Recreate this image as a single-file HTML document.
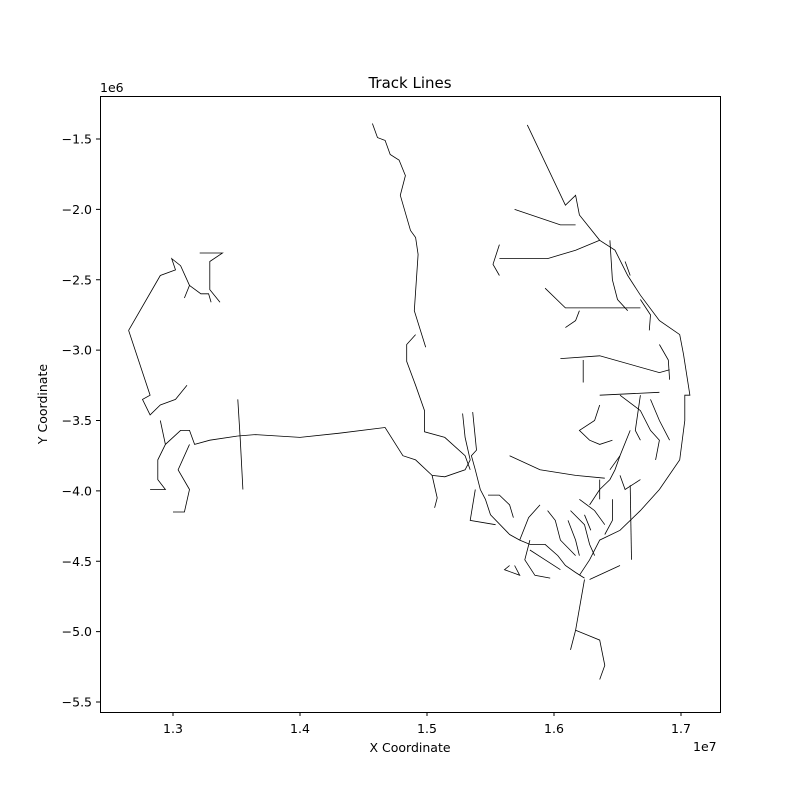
<!DOCTYPE html>
<html><head><meta charset="utf-8"><style>
body{margin:0;background:#fff}
svg{font-family:"DejaVu Sans","Liberation Sans",sans-serif}
</style></head><body>
<svg id="chart" width="800" height="800" viewBox="0 0 800 800">
<rect width="800" height="800" fill="#fff"/>
<text x="410" y="88" text-anchor="middle" font-size="15">Track Lines</text>
<text x="410" y="752" text-anchor="middle" font-size="12.5">X Coordinate</text>
<text x="47" y="404" text-anchor="middle" font-size="12.5" transform="rotate(-90 47 404)">Y Coordinate</text>
<text x="100" y="92" font-size="12.5">1e6</text>
<text x="693" y="751" font-size="12.5">1e7</text>
<g id="ticks"></g>
<g id="tracks" fill="none" stroke="#000" stroke-width="0.8"></g>
<rect x="100.5" y="96.5" width="620" height="616" fill="none" stroke="#000" stroke-width="1"/>
</svg>
<script>
const xTicks=[13,14,15,16,17];
const xTickLabels=["1.3","1.4","1.5","1.6","1.7"];
const yTicks=[-1.5,-2.0,-2.5,-3.0,-3.5,-4.0,-4.5,-5.0,-5.5];
const yTickLabels=["−1.5","−2.0","−2.5","−3.0","−3.5","−4.0","−4.5","−5.0","−5.5"];
// track polylines, coordinates in units of 1e6
const darwinLine=[[14.57,-1.39],[14.61,-1.49],[14.67,-1.51],[14.71,-1.61],[14.78,-1.65],[14.83,-1.76],[14.79,-1.90],[14.87,-2.15],[14.91,-2.20],[14.93,-2.32],[14.90,-2.72],[14.99,-2.98]];
const centralLine=[[14.91,-2.89],[14.84,-2.96],[14.84,-3.08],[14.91,-3.25],[14.98,-3.43],[14.98,-3.58],[15.14,-3.62],[15.30,-3.75],[15.34,-3.85]];
const transLine=[[13.51,-3.61],[13.65,-3.60],[14.0,-3.62],[14.31,-3.59],[14.67,-3.55],[14.81,-3.75],[14.91,-3.78],[15.04,-3.89],[15.14,-3.90],[15.30,-3.85],[15.34,-3.78],[15.30,-3.62],[15.28,-3.45]];
const eyreLine=[[15.04,-3.89],[15.08,-4.05],[15.06,-4.12]];
const waNorth=[[12.65,-2.86],[12.90,-2.47],[13.02,-2.43],[12.99,-2.35],[13.06,-2.40],[13.13,-2.54],[13.09,-2.63]];
const waNorthB=[[13.13,-2.54],[13.22,-2.60],[13.28,-2.60],[13.30,-2.66]];
const waPilbara=[[13.21,-2.31],[13.39,-2.31],[13.29,-2.37],[13.29,-2.57],[13.37,-2.66]];
const waCoast=[[12.65,-2.86],[12.82,-3.32],[12.76,-3.35],[12.82,-3.46],[12.90,-3.39],[13.02,-3.35],[13.11,-3.25]];
const waSouth=[[13.51,-3.61],[13.29,-3.64],[13.17,-3.67],[13.13,-3.57],[13.06,-3.57],[12.94,-3.67],[12.88,-3.78],[12.88,-3.92],[12.94,-3.99],[12.82,-3.99]];
const waSouthB=[[13.13,-3.67],[13.04,-3.85],[13.13,-3.99],[13.09,-4.15],[13.0,-4.15]];
const waSouthC=[[12.94,-3.67],[12.90,-3.50]];
const waCrossLine=[[13.51,-3.35],[13.53,-3.64],[13.55,-3.99]];
const qldCoast=[[15.79,-1.40],[16.09,-1.97],[16.17,-1.90],[16.20,-2.04],[16.36,-2.22],[16.48,-2.29],[16.58,-2.47],[16.68,-2.61],[16.83,-2.79],[16.99,-2.89],[17.02,-3.03],[17.07,-3.32],[17.03,-3.32],[17.03,-3.50],[16.99,-3.78],[16.83,-3.99],[16.68,-4.14],[16.52,-4.28],[16.36,-4.35],[16.28,-4.49],[16.20,-4.60]];
const qldInland1=[[15.57,-2.35],[15.95,-2.35],[16.17,-2.29],[16.36,-2.22]];
const qldInland2=[[15.69,-2.0],[16.05,-2.11],[16.17,-2.11]];
const qldInland3=[[15.93,-2.56],[16.09,-2.70],[16.48,-2.70],[16.68,-2.70]];
const qldInland4=[[16.05,-3.06],[16.36,-3.04],[16.83,-3.16],[16.91,-3.14]];
const qldInland5=[[16.36,-3.32],[16.83,-3.30]];
const qldBranch1=[[16.44,-2.22],[16.46,-2.50],[16.50,-2.64],[16.58,-2.72]];
const qldBranch2=[[16.56,-2.37],[16.60,-2.47]];
const qldBranch3=[[16.20,-2.72],[16.17,-2.79],[16.09,-2.84]];
const qldBranch4=[[15.57,-2.25],[15.52,-2.39],[15.57,-2.47]];
const qldBranch5=[[16.23,-3.07],[16.23,-3.23]];
const qldBranch6=[[16.83,-2.96],[16.90,-3.07],[16.91,-3.21]];
const qldBranch7=[[16.68,-2.64],[16.76,-2.75],[16.75,-2.86]];
const nswCentral=[[15.65,-3.75],[15.89,-3.85],[16.17,-3.89],[16.40,-3.91]];
const nswWest=[[16.46,-3.64],[16.36,-3.67],[16.28,-3.64],[16.20,-3.57],[16.32,-3.50],[16.36,-3.39]];
const south1=[[15.36,-3.44],[15.39,-3.71],[15.35,-3.75],[15.38,-3.85],[15.42,-3.99],[15.46,-4.06],[15.50,-4.17],[15.65,-4.31],[15.73,-4.35],[15.81,-4.38],[15.93,-4.38],[16.03,-4.46],[16.09,-4.53],[16.17,-4.58],[16.24,-4.62]];
const south2=[[15.48,-4.03],[15.57,-4.03],[15.65,-4.10],[15.68,-4.19]];
const south3=[[15.89,-4.10],[15.80,-4.19],[15.73,-4.35]];
const south4=[[15.81,-4.35],[15.77,-4.49],[15.85,-4.60],[15.97,-4.62]];
const south5=[[15.95,-4.14],[16.01,-4.21],[16.05,-4.35],[16.17,-4.46]];
const south6=[[16.11,-4.21],[16.17,-4.35],[16.20,-4.46]];
const south7=[[16.13,-4.14],[16.24,-4.24],[16.28,-4.38],[16.32,-4.46]];
const south8=[[16.28,-4.10],[16.36,-3.99],[16.44,-3.92],[16.48,-3.85],[16.52,-3.75]];
const south9=[[16.20,-4.06],[16.32,-4.14],[16.40,-4.24]];
const south10=[[16.46,-4.06],[16.46,-4.21],[16.40,-4.31]];
const south11=[[16.52,-3.89],[16.56,-3.99],[16.68,-3.92]];
const south12=[[16.52,-3.32],[16.68,-3.43],[16.76,-3.57],[16.83,-3.64],[16.80,-3.78]];
const south13=[[16.68,-3.32],[16.64,-3.57],[16.68,-3.64]];
const south14=[[16.76,-3.35],[16.83,-3.50],[16.91,-3.64]];
const south15=[[16.60,-3.96],[16.61,-4.49]];
const south16=[[16.28,-4.63],[16.52,-4.53]];
const south17=[[16.44,-3.85],[16.52,-3.75],[16.60,-3.57]];
const south18=[[15.69,-4.53],[15.73,-4.60],[15.61,-4.56],[15.65,-4.53]];
const south19=[[16.36,-3.92],[16.36,-4.06]];
const south20=[[15.38,-3.99],[15.34,-4.21],[15.54,-4.24]];
const south21=[[15.81,-4.42],[15.93,-4.49],[16.05,-4.56]];
const south22=[[16.24,-4.17],[16.29,-4.28]];
const victoria=[[16.24,-4.63],[16.17,-4.99],[16.36,-5.06],[16.40,-5.24],[16.36,-5.34]];
const victoriaB=[[16.17,-4.99],[16.13,-5.13]];
const lines=[darwinLine,centralLine,transLine,eyreLine,waNorth,waNorthB,waPilbara,waCoast,waSouth,waSouthB,waSouthC,waCrossLine,qldCoast,qldInland1,qldInland2,qldInland3,qldInland4,qldInland5,qldBranch1,qldBranch2,qldBranch3,qldBranch4,qldBranch5,qldBranch6,qldBranch7,nswCentral,nswWest,south1,south2,south3,south4,south5,south6,south7,south8,south9,south10,south11,south12,south13,south14,south15,south16,south17,south18,south19,south20,south21,south22,victoria,victoriaB];

const NS="http://www.w3.org/2000/svg";
function xs(v){return 173+(v-13)*127;}
function ys(v){return 139-(v+1.5)*140.75;}
const tg=document.getElementById('ticks');
xTicks.forEach((t,i)=>{
  const l=document.createElementNS(NS,'line');
  l.setAttribute('x1',xs(t));l.setAttribute('x2',xs(t));l.setAttribute('y1',712);l.setAttribute('y2',716);l.setAttribute('stroke','#000');
  
  
  tg.appendChild(l);
  const tx=document.createElementNS(NS,'text');
  tx.setAttribute('x',xs(t));tx.setAttribute('y',733);tx.setAttribute('text-anchor','middle');tx.setAttribute('font-size','12.5');
  tx.textContent=xTickLabels[i];
  
  
  tg.appendChild(tx);
});
yTicks.forEach((t,i)=>{
  const l=document.createElementNS(NS,'line');
  l.setAttribute('x1',96);l.setAttribute('x2',100);l.setAttribute('y1',ys(t));l.setAttribute('y2',ys(t));l.setAttribute('stroke','#000');
  
  
  tg.appendChild(l);
  const tx=document.createElementNS(NS,'text');
  tx.setAttribute('x',92);tx.setAttribute('y',ys(t)+4.5);tx.setAttribute('text-anchor','end');tx.setAttribute('font-size','12.5');
  tx.textContent=yTickLabels[i];
  
  
  tg.appendChild(tx);
});
const g=document.getElementById('tracks');
lines.forEach(pts=>{
  const p=document.createElementNS(NS,'polyline');
  p.setAttribute('points',pts.map(q=>xs(q[0]).toFixed(1)+','+ys(q[1]).toFixed(1)).join(' '));
  
  
  g.appendChild(p);
});
</script>
</body></html>
